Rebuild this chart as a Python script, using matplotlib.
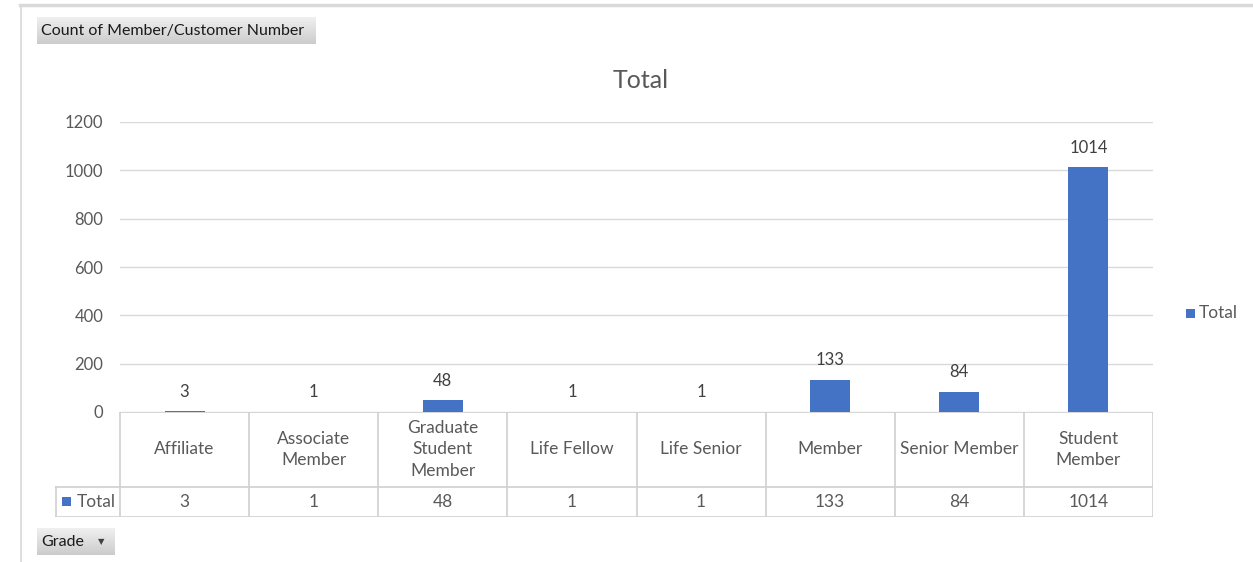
import numpy as np
import matplotlib.pyplot as plt
from matplotlib.lines import Line2D
from matplotlib.patches import Rectangle

plt.rcParams['font.family'] = ['Lato', 'DejaVu Sans']

categories = ["Affiliate", "Associate\nMember", "Graduate\nStudent\nMember", "Life Fellow",
              "Life Senior", "Member", "Senior Member", "Student\nMember"]
totals = [3, 1, 48, 1, 1, 133, 84, 1014]
yticks = [0, 200, 400, 600, 800, 1000, 1200]

W, H = 1253, 562
bar_color = "#4472C4"
txt = "#595959"
grid = "#d9d9d9"

fig = plt.figure(figsize=(W / 100, H / 100), dpi=100)

def fx(px):
    return px / W

def fy(py):
    return 1 - py / H

def square(l, t, size=9):
    # small legend key, pixel coords from top-left
    fig.add_artist(Rectangle((fx(l), fy(t + size)), fx(size), size / H,
                             facecolor=bar_color, edgecolor="none"))

# outer frame (top + left edges)
fig.add_artist(Line2D([fx(20), fx(1253)], [fy(5), fy(5)], color="#d9d9d9", lw=2.5))
fig.add_artist(Line2D([fx(21), fx(21)], [fy(5), fy(562)], color="#d9d9d9", lw=1.2))

# main chart
x0, x1, ytop, ybot = 120, 1153, 122, 412
ax = fig.add_axes([fx(x0), fy(ybot), fx(x1 - x0), (ybot - ytop) / H])
x = np.arange(len(categories))
ax.bar(x, totals, width=0.31, color=bar_color, zorder=3)
ax.set_xlim(-0.5, len(categories) - 0.5)
ax.set_ylim(0, 1200)
ax.set_yticks(yticks)
ax.set_yticklabels([str(v) for v in yticks], fontsize=12, color=txt)
ax.tick_params(axis="y", length=0, pad=12)
ax.set_xticks([])
ax.grid(axis="y", color=grid, lw=1, zorder=0)
for s in ax.spines.values():
    s.set_visible(False)
for xi, v in zip(x, totals):
    ax.annotate(str(v), (xi, v), xytext=(0, 14), textcoords="offset points",
                ha="center", va="center", fontsize=12, color="#404040")

fig.text(fx(641), fy(80), "Total", ha="center", va="center", fontsize=18, color=txt)

# data table below the axis
cw = (x1 - x0) / len(categories)
tleft = 55
tab = fig.add_axes([fx(tleft), fy(517), fx(x1 - tleft), (517 - 412) / H])
xl = -0.5 - (x0 - tleft) / cw
tab.set_xlim(xl, len(categories) - 0.5)
tab.set_ylim(0, 105)
tab.axis("off")
lc = "#d0d0d0"
tab.plot([-0.5, len(categories) - 0.5], [105, 105], color=lc, lw=1.2)
tab.plot([xl, len(categories) - 0.5], [30, 30], color=lc, lw=1.2)
tab.plot([xl, len(categories) - 0.5], [0.5, 0.5], color=lc, lw=1.2)
for b in np.arange(len(categories) + 1) - 0.5:
    tab.plot([b, b], [0.5, 105], color=lc, lw=1.2)
tab.plot([xl + 0.005] * 2, [0.5, 30], color=lc, lw=1.2)
for xi, c, v in zip(x, categories, totals):
    tab.text(xi, 67.5, c, ha="center", va="center", fontsize=12.5, color=txt, linespacing=1.45)
    tab.text(xi, 15, str(v), ha="center", va="center", fontsize=12.5, color=txt)
square(62, 497)
tab.text(xl + 22 / cw, 15, "Total", ha="left", va="center", fontsize=12.5, color=txt)

# legend
square(1186, 309)
fig.text(fx(1199), fy(313), "Total", ha="left", va="center", fontsize=12.5, color=txt)

# pivot field buttons with gradient
def button(l, t, r, b):
    bax = fig.add_axes([fx(l), fy(b), fx(r - l), (b - t) / H])
    grad = np.linspace(0.94, 0.80, 50).reshape(-1, 1)
    bax.imshow(np.dstack([grad, grad, grad]), aspect="auto", extent=(0, 1, 0, 1))
    bax.set_xlim(0, 1)
    bax.set_ylim(0, 1)
    bax.axis("off")
    return bax

b1 = button(37, 17, 316, 44)
b1.text(0.015, 0.5, "Count of Member/Customer Number", ha="left", va="center",
        fontsize=11.5, color="#1a1a1a")
b2 = button(37, 528, 115, 555)
b2.text(0.05, 0.5, "Grade", ha="left", va="center", fontsize=11.5, color="#1a1a1a")
b2.text(0.82, 0.5, "▼", ha="center", va="center", fontsize=6, color="#404040")

fig.savefig("out.png", dpi=100)
